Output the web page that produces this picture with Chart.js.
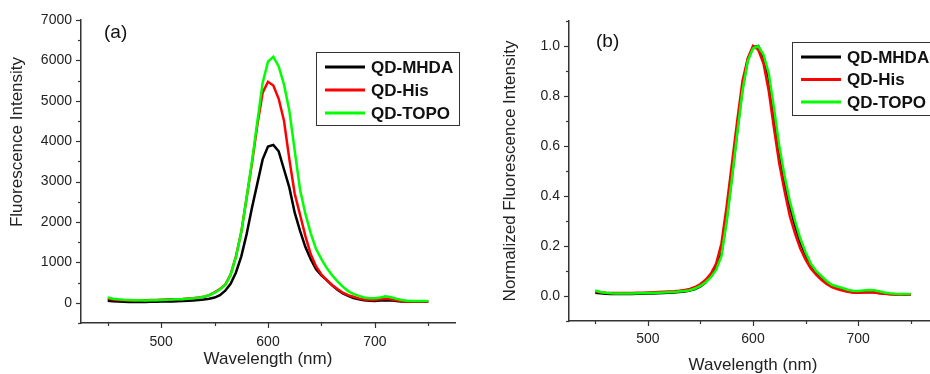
<!DOCTYPE html>
<html>
<head>
<meta charset="utf-8">
<title>QD fluorescence spectra</title>
<script src="https://cdn.jsdelivr.net/npm/chart.js@4/dist/chart.umd.min.js"></script>
<style>
  html, body { margin: 0; padding: 0; background: #fff; width: 930px; height: 374px; overflow: hidden; }
  canvas { position: absolute; top: 0; }
</style>
</head>
<body>
<canvas id="chartA" width="465" height="374" style="left:0"></canvas>
<canvas id="chartB" width="480" height="374" style="left:465px"></canvas>
<script>
// Wavelength (nm), 5 nm step
const wavelengths = [450, 455, 460, 465, 470, 475, 480, 485, 490, 495,
  500, 505, 510, 515, 520, 525, 530, 535, 540, 545,
  550, 555, 560, 565, 570, 575, 580, 585, 590, 595,
  600, 605, 610, 615, 620, 625, 630, 635, 640, 645,
  650, 655, 660, 665, 670, 675, 680, 685, 690, 695,
  700, 705, 710, 715, 720, 725, 730, 735, 740, 745, 750];

const seriesNames = ['QD-MHDA', 'QD-His', 'QD-TOPO'];
const seriesColors = ['#000000', '#ff0000', '#00ff00'];

// (a) fluorescence intensity
const mhdaA = [50, 40, 30, 25, 20, 20, 20, 22, 25, 28,
  30, 30, 35, 40, 45, 50, 58, 68, 82, 100,
  130, 190, 300, 470, 750, 1150, 1700, 2350, 2950, 3550,
  3870, 3910, 3750, 3300, 2850, 2230, 1780, 1380, 1080, 830,
  680, 560, 430, 320, 230, 170, 120, 90, 65, 50,
  45, 55, 65, 60, 45, 35, 30, 28, 28, 28, 28];
const hisA = [100, 80, 70, 65, 60, 60, 62, 65, 68, 70,
  75, 80, 85, 90, 95, 105, 115, 130, 150, 190,
  260, 340, 450, 700, 1150, 1750, 2600, 3450, 4400, 5200,
  5470, 5380, 5050, 4500, 3550, 2700, 2180, 1650, 1200, 900,
  700, 560, 440, 340, 250, 190, 150, 110, 80, 70,
  70, 85, 100, 85, 60, 40, 30, 30, 30, 30, 30];
const topoA = [130, 100, 85, 75, 70, 65, 65, 60, 65, 65,
  70, 75, 80, 85, 90, 100, 110, 125, 150, 185,
  250, 330, 440, 690, 1130, 1750, 2600, 3500, 4480, 5450,
  5970, 6090, 5850, 5400, 4750, 3770, 2800, 2200, 1720, 1330,
  1080, 860, 680, 530, 400, 290, 220, 170, 130, 115,
  110, 130, 160, 140, 100, 70, 50, 45, 45, 45, 45];

// (b) normalized fluorescence intensity
const mhdaB = [0.013, 0.011, 0.009, 0.008, 0.008, 0.008, 0.008, 0.008, 0.009, 0.009,
  0.010, 0.010, 0.011, 0.012, 0.013, 0.014, 0.016, 0.018, 0.022, 0.028,
  0.038, 0.055, 0.080, 0.115, 0.17, 0.31, 0.48, 0.66, 0.83, 0.945,
  0.995, 1.0, 0.955, 0.87, 0.72, 0.575, 0.455, 0.36, 0.28, 0.215,
  0.165, 0.125, 0.095, 0.072, 0.055, 0.042, 0.033, 0.025, 0.019, 0.015,
  0.014, 0.015, 0.016, 0.015, 0.012, 0.010, 0.008, 0.007, 0.007, 0.006, 0.006];
const hisB = [0.018, 0.015, 0.013, 0.012, 0.012, 0.012, 0.012, 0.012, 0.013, 0.013,
  0.014, 0.015, 0.016, 0.017, 0.018, 0.019, 0.021, 0.024, 0.028, 0.036,
  0.048, 0.065, 0.09, 0.13, 0.21, 0.36, 0.53, 0.70, 0.86, 0.95,
  1.0, 0.985, 0.93, 0.82, 0.67, 0.53, 0.42, 0.32, 0.25, 0.19,
  0.145, 0.11, 0.085, 0.065, 0.048, 0.036, 0.028, 0.022, 0.017, 0.014,
  0.013, 0.014, 0.016, 0.014, 0.011, 0.009, 0.007, 0.006, 0.006, 0.006, 0.006];
const topoB = [0.022, 0.016, 0.013, 0.011, 0.010, 0.010, 0.010, 0.010, 0.011, 0.011,
  0.012, 0.012, 0.013, 0.014, 0.015, 0.016, 0.018, 0.020, 0.023, 0.030,
  0.040, 0.055, 0.075, 0.105, 0.16, 0.30, 0.47, 0.65, 0.82, 0.94,
  0.99, 1.0, 0.965, 0.89, 0.75, 0.60, 0.48, 0.38, 0.30, 0.23,
  0.175, 0.13, 0.10, 0.08, 0.06, 0.045, 0.038, 0.032, 0.025, 0.021,
  0.020, 0.022, 0.024, 0.023, 0.019, 0.014, 0.011, 0.009, 0.008, 0.008, 0.008];

// ticks (major ones carry a label, minor ones an empty string)
const xTicks = [450, 500, 550, 600, 650, 700, 750];
const xTickLabels = ['', '500', '', '600', '', '700', ''];
const yTicksA = [-500, 0, 500, 1000, 1500, 2000, 2500, 3000, 3500, 4000, 4500, 5000, 5500, 6000, 6500, 7000];
const yTickLabelsA = ['', '0', '', '1000', '', '2000', '', '3000', '', '4000', '', '5000', '', '6000', '', '7000'];
const yTicksB = [-0.1, 0, 0.1, 0.2, 0.3, 0.4, 0.5, 0.6, 0.7, 0.8, 0.9, 1.0, 1.1];
const yTickLabelsB = ['', '0.0', '', '0.2', '', '0.4', '', '0.6', '', '0.8', '', '1.0', ''];

const FONT = 'Arial, "Liberation Sans", Helvetica, sans-serif';
const AXIS = '#333';

// short outward tick marks, minor ones shorter
const tickMarks = {
  id: 'tickMarks',
  afterDraw(chart) {
    const ctx = chart.ctx;
    const xs = chart.scales.x, ys = chart.scales.y;
    ctx.save();
    ctx.strokeStyle = AXIS;
    ctx.lineWidth = 1.2;
    xs.ticks.forEach(t => {
      const len = t.label ? 5 : 3;
      const px = Math.round(xs.getPixelForValue(t.value)) + 0.5;
      ctx.beginPath(); ctx.moveTo(px, xs.top); ctx.lineTo(px, xs.top + len); ctx.stroke();
    });
    ys.ticks.forEach(t => {
      const len = t.label ? 5 : 3;
      const py = Math.round(ys.getPixelForValue(t.value)) + 0.5;
      ctx.beginPath(); ctx.moveTo(ys.right, py); ctx.lineTo(ys.right - len, py); ctx.stroke();
    });
    ctx.restore();
  }
};

// panel letter, boxed legend and (optionally) a free-placed y title
const overlay = {
  id: 'overlay',
  afterDraw(chart, args, opts) {
    const ctx = chart.ctx;
    ctx.save();
    ctx.textBaseline = 'middle';
    ctx.textAlign = 'left';
    ctx.fillStyle = '#111';
    ctx.font = '19px ' + FONT;
    ctx.fillText(opts.panel, opts.panelX, opts.panelY);

    if (opts.yTitle) {
      ctx.save();
      ctx.translate(opts.yTitleX, opts.yTitleY);
      ctx.rotate(-Math.PI / 2);
      ctx.textAlign = 'center';
      ctx.font = '17px ' + FONT;
      ctx.fillStyle = '#222';
      ctx.fillText(opts.yTitle, 0, 0);
      ctx.restore();
    }

    const lg = opts.legend;
    ctx.fillStyle = '#fff';
    ctx.fillRect(lg.x, lg.y, lg.w, lg.h);
    ctx.strokeStyle = AXIS;
    ctx.lineWidth = 1;
    ctx.strokeRect(lg.x + 0.5, lg.y + 0.5, lg.w, lg.h);
    ctx.font = 'bold 17px ' + FONT;
    seriesNames.forEach((name, i) => {
      const y = lg.y + lg.row0 + i * lg.gap;
      ctx.strokeStyle = seriesColors[i];
      ctx.lineWidth = 3;
      ctx.beginPath(); ctx.moveTo(lg.x + 9, y); ctx.lineTo(lg.x + 49, y); ctx.stroke();
      ctx.fillStyle = '#111';
      ctx.fillText(name, lg.x + 55, y + 1);
    });
    ctx.restore();
  }
};

function makeDatasets(values) {
  return values.map((v, i) => ({
    label: seriesNames[i],
    data: wavelengths.map((w, k) => ({ x: w, y: v[k] })),
    borderColor: seriesColors[i],
    borderWidth: 2.5,
    pointRadius: 0,
    tension: 0,
    fill: false,
    order: 3 - i   // green on top, then red, then black
  }));
}

function makeChart(id, cfg) {
  return new Chart(document.getElementById(id), {
    type: 'line',
    data: { datasets: makeDatasets(cfg.series) },
    options: {
      responsive: false,
      animation: false,
      devicePixelRatio: 1,
      layout: { padding: { left: 0, top: cfg.top, right: cfg.right, bottom: 0 } },
      plugins: {
        legend: { display: false },
        tooltip: { enabled: false },
        overlay: cfg.overlay
      },
      scales: {
        x: {
          type: 'linear',
          min: 425, max: 775,
          afterBuildTicks: s => { s.ticks = xTicks.map(v => ({ value: v })); },
          afterFit: s => { s.height = 374 - cfg.bottom; },
          grid: { display: false, drawTicks: false },
          border: { display: true, color: AXIS, width: 1.5 },
          ticks: {
            autoSkip: false, maxRotation: 0, padding: cfg.xPad,
            color: '#222', font: { family: FONT, size: 14 },
            callback: (v, i) => xTickLabels[i]
          },
          title: {
            display: true, text: 'Wavelength (nm)', color: '#222',
            font: { family: FONT, size: 17, lineHeight: 1 },
            padding: { top: 0, bottom: cfg.xTitlePad }
          }
        },
        y: {
          type: 'linear',
          min: cfg.yMin, max: cfg.yMax,
          afterBuildTicks: s => { s.ticks = cfg.yTicks.map(v => ({ value: v })); },
          afterFit: s => { s.width = cfg.left; },
          grid: { display: false, drawTicks: false },
          border: { display: true, color: AXIS, width: 1.5 },
          ticks: {
            autoSkip: false, padding: 9,
            color: '#222', font: { family: FONT, size: 14 },
            callback: (v, i) => cfg.yLabels[i]
          },
          title: cfg.yTitle
        }
      }
    },
    plugins: [tickMarks, overlay]
  });
}

makeChart('chartA', {
  series: [mhdaA, hisA, topoA],
  top: 20, right: 10, bottom: 323, left: 81,
  xPad: 11, xTitlePad: 6,
  yMin: -500, yMax: 7000, yTicks: yTicksA, yLabels: yTickLabelsA,
  yTitle: { display: false },
  overlay: {
    panel: '(a)', panelX: 104, panelY: 33,
    yTitle: 'Fluorescence Intensity', yTitleX: 17, yTitleY: 142,
    legend: { x: 316, y: 52, w: 143, h: 73, row0: 15, gap: 23 }
  }
});

makeChart('chartB', {
  series: [mhdaB, hisB, topoB],
  top: 21, right: 8, bottom: 321, left: 104,
  xPad: 10, xTitlePad: 0,
  yMin: -0.1, yMax: 1.1, yTicks: yTicksB, yLabels: yTickLabelsB,
  yTitle: {
    display: true, text: 'Normalized Fluorescence Intensity', color: '#222',
    font: { family: FONT, size: 17 }, padding: { top: 35, bottom: 0 }
  },
  overlay: {
    panel: '(b)', panelX: 131, panelY: 42,
    legend: { x: 327, y: 42, w: 170, h: 73, row0: 15, gap: 22.5 }
  }
});
</script>
</body>
</html>
